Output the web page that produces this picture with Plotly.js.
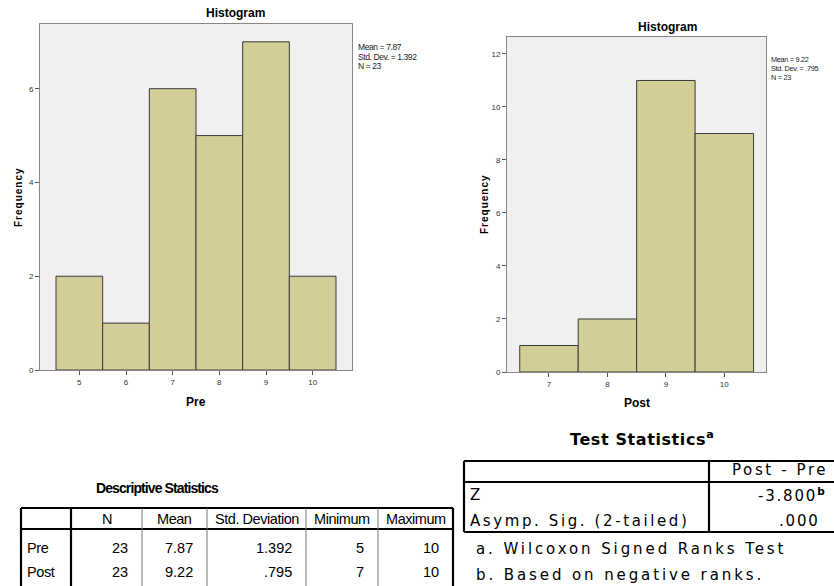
<!DOCTYPE html>
<html>
<head>
<meta charset="utf-8">
<script src="https://cdn.plot.ly/plotly-3.0.1.min.js"></script>
<style>html,body{margin:0;padding:0;background:#fff;}#chart{width:834px;height:586px;}</style>
</head>
<body>
<div id="chart"></div>
<script>
// ---- data ----
const preBins = [5, 6, 7, 8, 9, 10];
const preFreq = [2, 1, 6, 5, 7, 2];
const postBins = [7, 8, 9, 10];
const postFreq = [1, 2, 11, 9];
const preStats = ['Mean = 7.87', 'Std. Dev. = 1.392', 'N = 23'];
const postStats = ['Mean = 9.22', 'Std. Dev. = .795', 'N = 23'];
const preTicksY = [0, 2, 4, 6];
const postTicksY = [0, 2, 4, 6, 8, 10, 12];

const descTitle = 'Descriptive Statistics';
const descHeaders = ['N', 'Mean', 'Std. Deviation', 'Minimum', 'Maximum'];
const descRows = ['Pre', 'Post'];
const descN = ['23', '23'];
const descMean = ['7.87', '9.22'];
const descSD = ['1.392', '.795'];
const descMin = ['5', '7'];
const descMax = ['10', '10'];

const testTitle = 'Test Statistics';
const testTitleNote = 'a';
const testHeader = 'Post - Pre';
const testRows = ['Z', 'Asymp. Sig. (2-tailed)'];
const testVals = ['-3.800', '.000'];
const testValNotes = ['b', ''];
const testNotes = ['a. Wilcoxon Signed Ranks Test', 'b. Based on negative ranks.'];

// ---- helpers (pixel -> paper) ----
const W = 834, H = 586;
const px = x => x / W;
const py = y => 1 - y / H;
const SANS = '"Liberation Sans", Arial, sans-serif';
const WIDE = '"DejaVu Sans", Verdana, sans-serif';
const BAR = '#d3ce97';

const traces = [
  {type: 'bar', x: preBins, y: preFreq, width: 1, xaxis: 'x', yaxis: 'y',
   marker: {color: BAR, line: {color: '#3a3a3a', width: 1}}, hoverinfo: 'x+y'},
  {type: 'bar', x: postBins, y: postFreq, width: 1, xaxis: 'x2', yaxis: 'y2',
   marker: {color: BAR, line: {color: '#3a3a3a', width: 1}}, hoverinfo: 'x+y'}
];

const axBase = {showgrid: false, zeroline: false, showline: true, mirror: true,
  linecolor: '#888', linewidth: 1, ticks: 'outside', ticklen: 4, tickcolor: '#555',
  tickfont: {family: SANS, size: 8, color: '#333'}, fixedrange: true};

const layout = {
  width: W, height: H, margin: {l: 0, r: 0, t: 0, b: 0},
  paper_bgcolor: '#fff', plot_bgcolor: 'rgba(0,0,0,0)', showlegend: false, bargap: 0,
  xaxis: Object.assign({}, axBase, {domain: [px(40), px(352)], range: [4.157, 10.843],
    tickmode: 'array', tickvals: preBins, anchor: 'y'}),
  yaxis: Object.assign({}, axBase, {domain: [py(370), py(24)], range: [0, 7.38],
    tickmode: 'array', tickvals: preTicksY, anchor: 'x'}),
  xaxis2: Object.assign({}, axBase, {domain: [px(507), px(766)], range: [6.282, 10.713],
    tickmode: 'array', tickvals: postBins, anchor: 'y2'}),
  yaxis2: Object.assign({}, axBase, {domain: [py(372), py(37)], range: [0, 12.64],
    tickmode: 'array', tickvals: postTicksY, anchor: 'x2'}),
  shapes: [],
  annotations: []
};

// plot backgrounds
layout.shapes.push({type: 'rect', xref: 'x domain', yref: 'y domain', x0: 0, x1: 1, y0: 0, y1: 1,
  fillcolor: '#f0f0f0', line: {width: 0}, layer: 'below'});
layout.shapes.push({type: 'rect', xref: 'x2 domain', yref: 'y2 domain', x0: 0, x1: 1, y0: 0, y1: 1,
  fillcolor: '#f0f0f0', line: {width: 0}, layer: 'below'});

function ann(text, x, y, opts) {
  layout.annotations.push(Object.assign({text: text, xref: 'paper', yref: 'paper',
    x: px(x), y: py(y), showarrow: false, xanchor: 'center', yanchor: 'middle',
    font: {family: SANS, size: 12, color: '#000'}}, opts || {}));
}
function hline(x0, x1, y, w, c) {
  layout.shapes.push({type: 'line', xref: 'paper', yref: 'paper', x0: px(x0), x1: px(x1),
    y0: py(y), y1: py(y), line: {color: c || '#000', width: w}});
}
function vline(x, y0, y1, w, c) {
  layout.shapes.push({type: 'line', xref: 'paper', yref: 'paper', x0: px(x), x1: px(x),
    y0: py(y0), y1: py(y1), line: {color: c || '#000', width: w}});
}
const ls = (s, v) => '<span style="letter-spacing:' + v + 'px">' + s + '</span>';

// histogram titles & labels
ann('<b>Histogram</b>', 235, 13, {font: {family: SANS, size: 12, color: '#000'}});
ann('<b>Histogram</b>', 667, 27, {font: {family: SANS, size: 12, color: '#000'}});
ann('<b>' + ls('Frequency', 1) + '</b>', 18, 197, {textangle: -90, font: {family: SANS, size: 10, color: '#000'}});
ann('<b>' + ls('Frequency', 1) + '</b>', 484, 204, {textangle: -90, font: {family: SANS, size: 10, color: '#000'}});
ann('<b>Pre</b>', 196, 402, {font: {family: SANS, size: 12, color: '#000'}});
ann('<b>Post</b>', 637, 403, {font: {family: SANS, size: 12, color: '#000'}});
preStats.forEach((s, i) => ann(ls(s, -0.4), 356, 47 + i * 9.5, {xanchor: 'left', font: {family: SANS, size: 8.5, color: '#222'}}));
postStats.forEach((s, i) => ann(ls(s, -0.3), 769, 60 + i * 8.7, {xanchor: 'left', font: {family: SANS, size: 7.3, color: '#222'}}));

// ---- Descriptive Statistics table ----
const dFont = {family: SANS, size: 14.5, color: '#000'};
ann('<b>' + ls(descTitle, -0.9) + '</b>', 157, 488, {font: {family: SANS, size: 14, color: '#000'}});
const dL = 21, dT = 508, dHB = 529, dB = 600;
const dCols = [71, 142, 207, 306, 378, 453];
hline(dL, dCols[5], dT, 2.2);
vline(dL, dT, dB, 2.2);
vline(dCols[5], dT, dB, 2.2);
hline(dL, dCols[5], dHB, 2.2);
vline(dCols[0], dT, dB, 2.2);
for (let i = 1; i < 5; i++) vline(dCols[i], dT, dB, 1, '#777');
descHeaders.forEach((h, i) => ann(ls(h, -0.45), (dCols[i] + dCols[i + 1]) / 2, 519, {font: dFont}));
const descCols = [descN, descMean, descSD, descMin, descMax];
const dRowY = [548, 572];
descRows.forEach((r, j) => {
  ann(ls(r, -0.4), 25, dRowY[j], {xanchor: 'left', font: dFont});
  descCols.forEach((col, i) => ann(ls(col[j], 0), dCols[i + 1] - 12, dRowY[j], {xanchor: 'right', font: dFont}));
});

// ---- Test Statistics table ----
const tFont = {family: WIDE, size: 15, color: '#000'};
ann('<b>' + ls(testTitle, 0.6) + '<sup>' + testTitleNote + '</sup></b>', 642, 438, {font: {family: WIDE, size: 16, color: '#000'}});
const tL = 464, tT = 461, tHB = 482, tB = 532, tR = 850, tV = 709;
hline(tL, tR, tT, 2.2);
hline(tL, tR, tHB, 2.2);
hline(tL, tR, tB, 2.2);
vline(tL, tT, tB, 2.2);
vline(tV, tT, tB, 2.2);
ann(ls(testHeader, 2.6), 830, 470, {xanchor: 'right', font: tFont});
const tRowY = [495, 521];
testRows.forEach((r, j) => {
  ann(ls(r, 2.6), 468, tRowY[j], {xanchor: 'left', font: tFont});
  const v = ls(testVals[j], 1.8) + (testValNotes[j] ? '<sup><b>' + testValNotes[j] + '</b></sup>' : '');
  ann(v, testValNotes[j] ? 827 : 822, tRowY[j], {xanchor: 'right', font: tFont});
});
testNotes.forEach((n, j) => ann(ls(n, 2.9), 474, 549 + j * 26, {xanchor: 'left', font: tFont}));

Plotly.newPlot('chart', traces, layout, {displayModeBar: false, staticPlot: true});
</script>
</body>
</html>
